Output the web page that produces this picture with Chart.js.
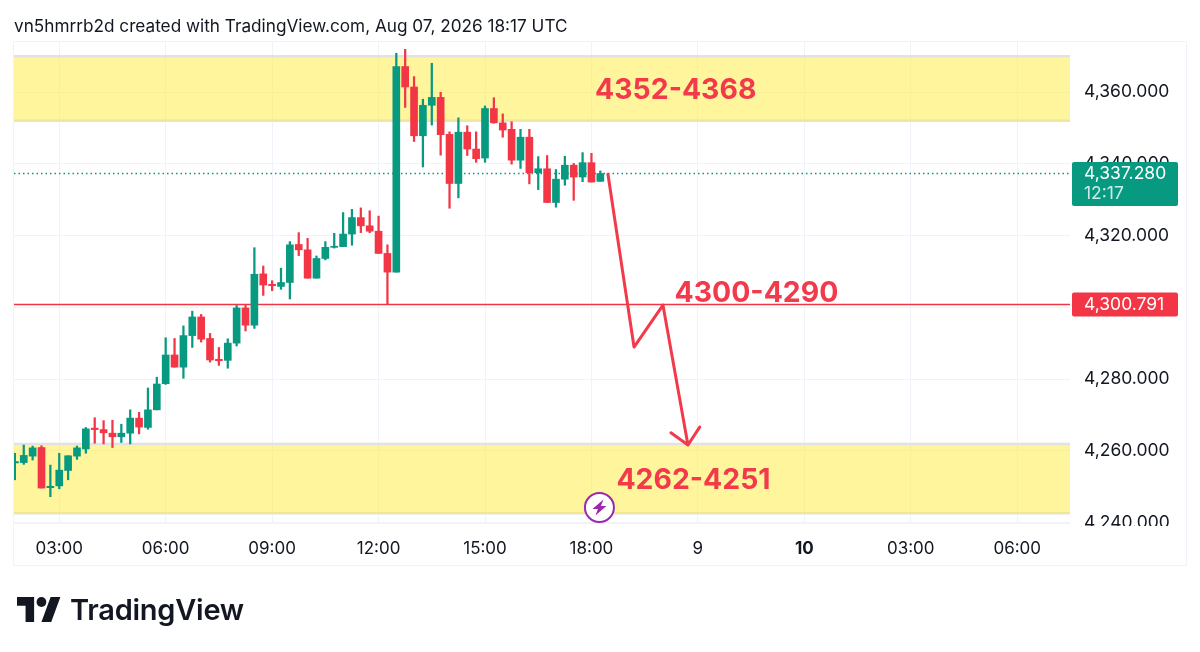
<!DOCTYPE html>
<html>
<head>
<meta charset="utf-8">
<title>XAU 15m</title>
<script src="https://cdn.jsdelivr.net/npm/chart.js@4"></script>
<style>
  html, body { margin: 0; background: #fff; }
  #page { position: relative; width: 1200px; height: 652px; overflow: hidden; color: #131722; font-family: Inter, sans-serif; }
  #frame { position: absolute; left: 13px; top: 41px; width: 1172px; height: 523px; border: 1px solid #f0f3fa; }
  #chart { position: absolute; left: 0; top: 0; }
  #title { position: absolute; left: 14px; top: 16px; font-size: 17.2px; line-height: 20px; white-space: nowrap; }
  #logo { position: absolute; left: 17px; top: 597px; width: 44px; height: 25px; }
  #brand { position: absolute; left: 70px; top: 592px; font-size: 29px; line-height: 36px; font-weight: 600; letter-spacing: -0.25px; }
</style>
</head>
<body>
<div id="page">
  <div id="frame"></div>
  <canvas id="chart" width="1200" height="652"></canvas>
  <div id="title">vn5hmrrb2d created with TradingView.com, Aug 07, 2026 18:17 UTC</div>
  <svg id="logo" viewBox="0 0 36 20" preserveAspectRatio="none"><path fill="#131722" d="M14 20H7V7H0V0h14v20zM28 20h-8L27.5 0h8L28 20z"/><circle fill="#131722" cx="20" cy="4" r="4"/></svg>
  <div id="brand">TradingView</div>
</div>
<script>
// 15 minute candles, slot 0 is 03:00
const firstSlot = -5;
const opens = [4256.6,4256.7,4258.5,4260.9,4249.7,4250.2,4254.5,4258.5,4260.5,4266.3,4265.9,4264.9,4263.9,4264.9,4269.1,4266.5,4271.4,4278.7,4286.7,4283.3,4292.1,4297.3,4291.3,4285.5,4285.2,4290.0,4299.8,4295.0,4309.3,4306.4,4305.8,4306.9,4317.5,4316.0,4308.1,4313.6,4316.7,4316.9,4320.4,4325.0,4322.7,4321.2,4315.0,4309.8,4367.1,4361.4,4347.8,4356.3,4358.5,4348.2,4334.5,4348.8,4344.1,4341.6,4355.4,4351.4,4349.6,4341.0,4347.4,4337.5,4338.6,4329.2,4335.7,4339.6,4336.3,4340.3,4335.1];
const highs = [4259.3,4261.6,4261.3,4261.4,4256.0,4259.3,4258.6,4261.3,4266.5,4269.2,4268.4,4268.5,4267.4,4271.4,4270.7,4277.5,4280.5,4291.5,4291.3,4294.8,4298.9,4298.0,4292.7,4288.8,4291.2,4300.5,4300.5,4316.6,4311.5,4307.4,4310.9,4318.3,4320.8,4319.2,4314.3,4318.3,4320.6,4326.4,4327.3,4327.7,4326.9,4325.4,4317.4,4370.8,4371.9,4364.3,4358.0,4368.0,4359.9,4348.9,4352.8,4350.6,4348.9,4356.1,4358.4,4353.9,4351.7,4349.6,4349.6,4342.0,4342.3,4338.4,4342.1,4340.1,4343.1,4342.9,4338.0];
const lows = [4251.9,4256.2,4257.4,4249.6,4247.2,4249.4,4251.9,4257.6,4259.3,4262.1,4261.9,4260.9,4262.3,4261.9,4264.7,4266.0,4271.4,4278.5,4283.3,4280.2,4288.8,4290.3,4284.7,4283.8,4283.0,4289.2,4293.4,4294.1,4303.3,4304.6,4305.0,4302.3,4314.4,4308.1,4308.1,4313.2,4316.5,4316.9,4317.3,4320.8,4320.8,4315.0,4300.8,4309.8,4355.7,4346.2,4339.1,4350.8,4342.4,4327.6,4330.5,4342.3,4340.4,4340.4,4351.3,4347.4,4339.9,4338.7,4334.4,4332.8,4329.2,4327.9,4334.0,4329.8,4335.0,4334.9,4335.1];
const closes = [4257.0,4258.7,4260.8,4249.6,4250.1,4254.6,4258.6,4260.8,4266.1,4265.9,4265.0,4263.9,4264.9,4269.1,4266.6,4271.4,4278.6,4286.7,4283.3,4292.1,4297.3,4291.1,4285.3,4285.1,4290.0,4299.8,4295.0,4309.2,4306.2,4306.0,4306.9,4317.4,4316.0,4308.1,4313.6,4316.7,4317.0,4320.4,4325.0,4322.7,4321.2,4315.0,4309.8,4367.1,4361.4,4347.8,4356.3,4358.5,4348.1,4334.5,4348.8,4344.1,4341.4,4355.4,4351.4,4349.4,4341.0,4347.4,4337.5,4338.6,4329.2,4335.7,4339.6,4336.3,4340.3,4334.9,4337.28];

const tickSlots = [0, 12, 24, 36, 48, 60, 72, 84, 96, 108];
const tickLabels = ['03:00', '06:00', '09:00', '12:00', '15:00', '18:00', '9', '10', '03:00', '06:00'];
const boldTick = '10';

const upperZone = [4370.0, 4352.0];
const lowerZone = [4261.9, 4242.6];
const lastPrice = 4337.28;
const linePrice = 4300.791;
const countdown = '12:17';

// hand drawn arrow, ends with the two strokes of its head
const arrowSlots = [61.86, 64.8, 68.06, 70.88, 68.96, 70.88, 72.2];
const arrowPrices = [4337.1, 4288.9, 4300.6, 4261.6, 4265.0, 4261.6, 4266.6];

const noteTexts = ['4352-4368', '4300-4290', '4262-4251'];
const noteSlots = [69.5, 78.6, 71.5];
const notePrices = [4360.5, 4303.8, 4251.8];

const UP = '#089981';
const DOWN = '#f23645';
const GRID = '#f0f3fa';
const INK = '#131722';
const xMin = -5.1;
const xMax = 113.95;

const slots = opens.map((_, i) => firstSlot + i);
const candleColors = opens.map((o, i) => (closes[i] >= o ? UP : DOWN));

function flatLine(value) {
  return [{ x: xMin, y: value }, { x: xMax, y: value }];
}

function zoneSets(zone) {
  const base = { type: 'line', order: 5, pointRadius: 0, borderColor: '#e2e2e4', borderWidth: 2.5 };
  return [
    { ...base, data: flatLine(zone[0]), fill: '+1', backgroundColor: 'rgba(255,235,59,0.5)' },
    { ...base, data: flatLine(zone[1]), fill: false },
  ];
}

// price tags, notes and the flash marker sit on top of everything
const overlay = {
  id: 'overlay',
  beforeDatasetsDraw(chart) {
    // the lowest price label is cut by the time axis
    const { ctx } = chart;
    ctx.fillStyle = '#fff';
    ctx.fillRect(1071, 526, 113, 38);
  },
  afterDraw(chart) {
    const { ctx, scales } = chart;
    const tag = (top, h, color) => {
      ctx.fillStyle = color;
      ctx.beginPath();
      ctx.roundRect(1072, top, 106, h, 2);
      ctx.fill();
    };
    ctx.save();
    ctx.textBaseline = 'middle';
    ctx.textAlign = 'left';
    ctx.font = '17.5px Inter, sans-serif';

    const lastY = scales.y.getPixelForValue(lastPrice);
    tag(lastY - 11.5, 44, UP);
    ctx.fillStyle = '#fff';
    ctx.fillText(lastPrice.toLocaleString('en-US', { minimumFractionDigits: 3 }), 1084, lastY + 0.5);
    ctx.fillStyle = 'rgba(255,255,255,0.8)';
    ctx.fillText(countdown, 1084, lastY + 20.5);

    const lineY = scales.y.getPixelForValue(linePrice);
    tag(lineY - 12, 24, DOWN);
    ctx.fillStyle = '#fff';
    ctx.fillText(linePrice.toLocaleString('en-US', { minimumFractionDigits: 3 }), 1084, lineY + 0.5);

    ctx.fillStyle = '#f23a4b';
    ctx.textAlign = 'center';
    ctx.font = '700 28.4px Inter, sans-serif';
    noteTexts.forEach((text, i) => {
      ctx.fillText(text, scales.x.getPixelForValue(noteSlots[i]), scales.y.getPixelForValue(notePrices[i]));
    });

    // flash marker
    const fx = scales.x.getPixelForValue(60.9);
    const fy = scales.y.getPixelForValue(4244.2);
    ctx.beginPath();
    ctx.arc(fx, fy, 14.5, 0, Math.PI * 2);
    ctx.fillStyle = '#fff';
    ctx.fill();
    ctx.strokeStyle = '#9c27b0';
    ctx.lineWidth = 2;
    ctx.stroke();
    ctx.fillStyle = '#9c27b0';
    ctx.beginPath();
    ctx.moveTo(fx + 4, fy - 8);
    ctx.lineTo(fx - 7, fy + 1.5);
    ctx.lineTo(fx - 1.5, fy + 1.5);
    ctx.lineTo(fx - 4, fy + 8);
    ctx.lineTo(fx + 7, fy - 1.5);
    ctx.lineTo(fx + 1.5, fy - 1.5);
    ctx.closePath();
    ctx.fill();
    ctx.restore();
  },
};

new Chart(document.getElementById('chart').getContext('2d'), {
  type: 'bar',
  plugins: [overlay],
  data: {
    datasets: [
      {
        type: 'line', order: 0, pointRadius: 0, borderColor: '#f23a4b', borderWidth: 3,
        borderJoinStyle: 'round', borderCapStyle: 'round',
        data: arrowSlots.map((x, i) => ({ x, y: arrowPrices[i] })),
      },
      {
        order: 1, grouped: false, barThickness: 7, backgroundColor: candleColors, minBarLength: 1,
        data: slots.map((x, i) => ({ x, y: [opens[i], closes[i]] })),
      },
      {
        order: 2, grouped: false, barThickness: 1.6, backgroundColor: candleColors,
        data: slots.map((x, i) => ({ x, y: [lows[i], highs[i]] })),
      },
      { type: 'line', order: 3, pointRadius: 0, borderColor: DOWN, borderWidth: 1.5, data: flatLine(linePrice) },
      { type: 'line', order: 3, pointRadius: 0, borderColor: UP, borderWidth: 1.5, borderDash: [1.5, 3], data: flatLine(lastPrice) },
      ...zoneSets(upperZone),
      ...zoneSets(lowerZone),
    ],
  },
  options: {
    responsive: false,
    animation: false,
    events: [],
    layout: { padding: { left: 14, top: 42, right: 14, bottom: 87 } },
    plugins: { legend: { display: false }, tooltip: { enabled: false } },
    scales: {
      x: {
        type: 'linear',
        offset: false,
        min: xMin,
        max: xMax,
        afterFit: (s) => { s.height = 42; },
        grid: { color: GRID, drawTicks: false, offset: false },
        border: { color: GRID },
        ticks: {
          stepSize: 12,
          includeBounds: false,
          autoSkip: false,
          maxRotation: 0,
          padding: 16,
          color: INK,
          font: (c) => ({
            family: 'Inter, sans-serif',
            size: 17,
            weight: c.tick && tickLabels[tickSlots.indexOf(c.tick.value)] === boldTick ? 'bold' : 'normal',
          }),
          callback: (v) => tickLabels[tickSlots.indexOf(v)] || '',
        },
      },
      y: {
        position: 'right',
        min: 4239.86,
        max: 4373.94,
        afterFit: (s) => { s.width = 116; },
        grid: { color: GRID, drawTicks: false },
        border: { display: false },
        ticks: {
          stepSize: 20,
          includeBounds: false,
          autoSkip: false,
          padding: 14,
          color: INK,
          font: { family: 'Inter, sans-serif', size: 17.5 },
          callback: (v) => v.toLocaleString('en-US', { minimumFractionDigits: 3 }),
        },
      },
    },
  },
});
</script>
</body>
</html>
